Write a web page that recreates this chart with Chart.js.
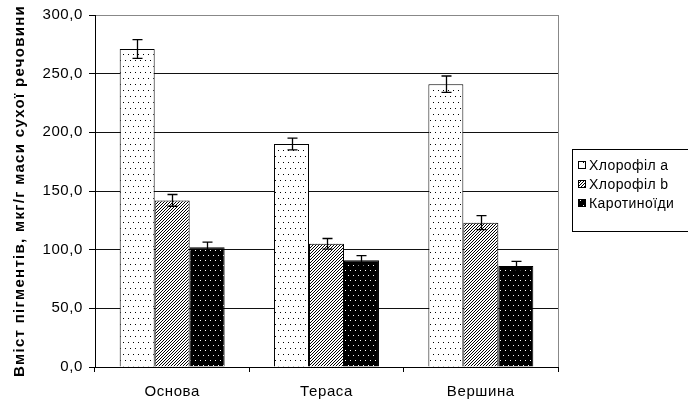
<!DOCTYPE html>
<html>
<head>
<meta charset="utf-8">
<script src="https://cdn.jsdelivr.net/npm/chart.js@4"></script>
<style>
  html, body { margin: 0; padding: 0; background: #fff; overflow: hidden; }
  #wrap { width: 688px; height: 400px; position: relative; }
</style>
</head>
<body>
<div id="wrap"><canvas id="chartCanvas" width="688" height="400"></canvas></div>
<script>
const categories = ["Основа", "Тераса", "Вершина"];
const seriesNames = ["Хлорофіл a", "Хлорофіл b", "Каротиноїди"];
const chlA = [271, 190, 241];
const chlB = [142, 105, 123];
const carot = [102, 91, 86];
const errA = [8, 5, 7];
const errB = [5, 4.5, 6];
const errC = [4.5, 4, 4];
const yTicks = [0, 50, 100, 150, 200, 250, 300];
const yTitle = "Вміст пігментів, мкг/г маси сухої речовини";

const FONT = "'Liberation Sans', Arial, sans-serif";

// small tiles used as bar fills
function makePattern(w, h, bg, fg, pixels) {
    const c = document.createElement("canvas");
    c.width = w; c.height = h;
    const g = c.getContext("2d");
    g.fillStyle = bg;
    g.fillRect(0, 0, w, h);
    g.fillStyle = fg;
    pixels.forEach(p => g.fillRect(p[0], p[1], 1, 1));
    return g.createPattern(c, "repeat");
}

const ctx = document.getElementById("chartCanvas").getContext("2d");
const dotted = makePattern(10, 12, "#fff", "#000", [[0, 0], [5, 0], [3, 6], [8, 6]]);
const hatched = makePattern(3, 3, "#fff", "#000", [[0, 2], [1, 1], [2, 0]]);
const darkDots = makePattern(10, 10, "#000", "#fff", [[0, 0], [5, 0], [3, 5], [8, 5]]);

// the original text is set a little wider than Liberation Sans
const spacing = {
    id: "spacing",
    beforeLayout(chart) { chart.ctx.letterSpacing = "0.6px"; },
    beforeDraw(chart) { chart.ctx.letterSpacing = "0.6px"; }
};

const errorBars = {
    id: "errorBars",
    afterDatasetsDraw(chart) {
        const g = chart.ctx;
        const y = chart.scales.y;
        g.save();
        g.strokeStyle = "#000";
        g.lineWidth = 1.3;
        chart.data.datasets.forEach((ds, i) => {
            const meta = chart.getDatasetMeta(i);
            meta.data.forEach((bar, j) => {
                const v = ds.data[j], e = ds.err[j];
                const top = y.getPixelForValue(v + e);
                const bot = y.getPixelForValue(v - e);
                const x = Math.round(bar.x) + 0.5;
                g.beginPath();
                g.moveTo(x, top); g.lineTo(x, bot);
                g.moveTo(x - 5, top); g.lineTo(x + 5, top);
                g.moveTo(x - 5, bot); g.lineTo(x + 5, bot);
                g.stroke();
            });
        });
        g.restore();
    }
};

const frameAndLegend = {
    id: "frameAndLegend",
    afterDraw(chart) {
        const g = chart.ctx;
        const a = chart.chartArea;
        g.save();
        g.strokeStyle = "#888";
        g.lineWidth = 1;
        g.beginPath();
        g.moveTo(Math.round(a.right) + 0.5, a.top);
        g.lineTo(Math.round(a.right) + 0.5, a.bottom);
        g.stroke();

        // y axis title
        g.save();
        g.translate(20, (a.top + a.bottom) / 2);
        g.rotate(-Math.PI / 2);
        g.letterSpacing = "1.3px";
        g.font = "bold 15px " + FONT;
        g.fillStyle = "#000";
        g.textAlign = "center";
        g.textBaseline = "middle";
        g.fillText(yTitle, 0, 0);
        g.restore();

        // legend box
        g.strokeStyle = "#000";
        g.strokeRect(572.5, 149.5, 140, 82);
        g.letterSpacing = "0.4px";
        g.font = "14px " + FONT;
        g.textBaseline = "middle";
        chart.data.datasets.forEach((ds, i) => {
            const cy = 165 + i * 19;
            g.fillStyle = ds.backgroundColor;
            g.fillRect(578, cy - 4, 8, 8);
            g.strokeRect(578.5, cy - 3.5, 7, 7);
            g.fillStyle = "#000";
            g.fillText(ds.label, 589, cy + 1);
        });
        g.restore();
    }
};

new Chart(ctx, {
    type: "bar",
    data: {
        labels: categories,
        datasets: [
            { label: seriesNames[0], data: chlA, err: errA, backgroundColor: dotted },
            { label: seriesNames[1], data: chlB, err: errB, backgroundColor: hatched },
            { label: seriesNames[2], data: carot, err: errC, backgroundColor: darkDots }
        ].map(d => Object.assign(d, { borderColor: "#000", borderWidth: 1 }))
    },
    options: {
        responsive: false,
        animation: false,
        events: [],
        layout: { padding: { top: 15, right: 130, bottom: 0, left: 0 } },
        datasets: { bar: { categoryPercentage: 0.68, barPercentage: 1 } },
        plugins: { legend: { display: false }, tooltip: { enabled: false } },
        scales: {
            x: {
                grid: { drawOnChartArea: false, tickLength: 5, color: "#000", offset: true },
                border: { color: "#000", width: 1 },
                ticks: { color: "#000", font: { family: FONT, size: 15 }, padding: 11 },
                afterFit: s => { s.height = 33; }
            },
            y: {
                min: 0,
                max: 300,
                afterBuildTicks: s => { s.ticks = yTicks.map(v => ({ value: v })); },
                grid: {
                    color: c => c.tick && c.tick.value === 300 ? "#888" : "#111",
                    tickColor: "#000",
                    tickLength: 6
                },
                border: { color: "#000", width: 1 },
                ticks: {
                    color: "#000",
                    font: { family: FONT, size: 15 },
                    padding: 6,
                    callback: v => v.toFixed(1).replace(".", ",")
                },
                title: { display: false },
                afterFit: s => { s.width = 95; }
            }
        }
    },
    plugins: [spacing, errorBars, frameAndLegend]
});
</script>
</body>
</html>
